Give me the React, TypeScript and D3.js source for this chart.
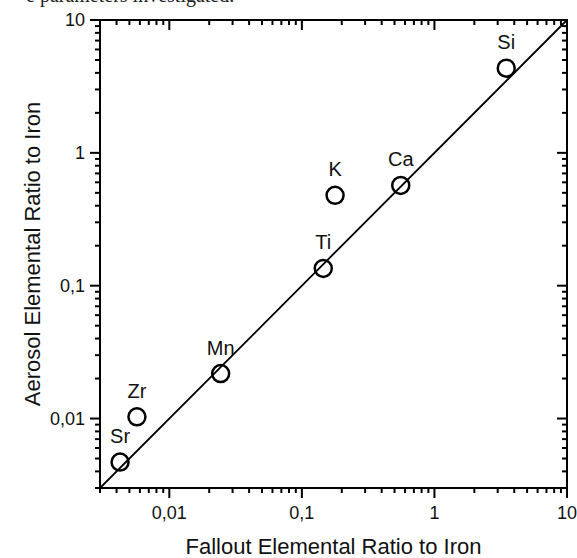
import React from 'react';
import * as d3 from 'd3';

// element labels and their ratios to iron
const elements = ['Sr', 'Zr', 'Mn', 'Ti', 'K', 'Ca', 'Si'];
const falloutRatio = [0.00425, 0.0057, 0.0244, 0.145, 0.178, 0.557, 3.48];
const aerosolRatio = [0.0047, 0.0103, 0.0218, 0.135, 0.479, 0.569, 4.34];

const majorTicks = [0.01, 0.1, 1, 10];
const majorLabels = ['0,01', '0,1', '1', '10'];
const axisDomain = [0.003, 10];

const W = 577;
const H = 558;
const margin = { left: 100, top: 20, right: 10, bottom: 70 };

const font = '"Liberation Sans", Arial, sans-serif';

export default function App() {
  const x = d3.scaleLog().domain(axisDomain).range([margin.left, W - margin.right]);
  const y = d3.scaleLog().domain(axisDomain).range([H - margin.bottom, margin.top]);

  const [x0, x1] = x.range();
  const [y0, y1] = y.range();

  // minor ticks 2..9 of each decade that lies inside the domain
  const minorTicks: number[] = [];
  for (let e = -3; e <= 0; e++) {
    for (let m = 2; m <= 9; m++) {
      const v = m * Math.pow(10, e);
      if (v >= axisDomain[0] && v <= axisDomain[1]) minorTicks.push(v);
    }
  }

  const major = 10;
  const minor = 5;
  const stroke = '#000';

  return (
    <div style={{ position: 'absolute', left: 0, top: 0 }}>
      <svg width={W} height={H} style={{ display: 'block', background: '#fff' }}>
        {/* cut-off caption line from the page above */}
        <text x={26} y={2} fontFamily='"Liberation Serif", "Times New Roman", serif' fontSize={20} fill="#222">
          e parameters investigated.
        </text>

        {/* 1:1 line */}
        <line x1={x(axisDomain[0])} y1={y(axisDomain[0])} x2={x(axisDomain[1])} y2={y(axisDomain[1])}
          stroke={stroke} strokeWidth={1.8} />

        {/* frame */}
        <rect x={x0} y={y1} width={x1 - x0} height={y0 - y1} fill="none" stroke={stroke} strokeWidth={2} />

        {/* bottom (out) and top (in) ticks */}
        {majorTicks.map((t) => (
          <g key={'xm' + t}>
            <line x1={x(t)} x2={x(t)} y1={y0} y2={y0 + major} stroke={stroke} strokeWidth={2} />
            <line x1={x(t)} x2={x(t)} y1={y1} y2={y1 + major} stroke={stroke} strokeWidth={2} />
          </g>
        ))}
        {minorTicks.map((t) => (
          <g key={'xn' + t}>
            <line x1={x(t)} x2={x(t)} y1={y0} y2={y0 + minor} stroke={stroke} strokeWidth={2} />
            <line x1={x(t)} x2={x(t)} y1={y1} y2={y1 + minor} stroke={stroke} strokeWidth={2} />
          </g>
        ))}

        {/* left (out) and right (in) ticks */}
        {majorTicks.map((t) => (
          <g key={'ym' + t}>
            <line y1={y(t)} y2={y(t)} x1={x0} x2={x0 - major} stroke={stroke} strokeWidth={2} />
            <line y1={y(t)} y2={y(t)} x1={x1} x2={x1 - major} stroke={stroke} strokeWidth={2} />
          </g>
        ))}
        {minorTicks.map((t) => (
          <g key={'yn' + t}>
            <line y1={y(t)} y2={y(t)} x1={x0} x2={x0 - minor} stroke={stroke} strokeWidth={2} />
            <line y1={y(t)} y2={y(t)} x1={x1} x2={x1 - minor} stroke={stroke} strokeWidth={2} />
          </g>
        ))}

        {/* tick labels */}
        {majorTicks.map((t, i) => (
          <text key={'xl' + t} x={x(t)} y={y0 + 31} textAnchor="middle" fontFamily={font} fontSize={18} fill="#111">
            {majorLabels[i]}
          </text>
        ))}
        {majorTicks.map((t, i) => (
          <text key={'yl' + t} x={x0 - 15} y={y(t)} dy="0.35em" textAnchor="end" fontFamily={font} fontSize={18} fill="#111">
            {majorLabels[i]}
          </text>
        ))}

        {/* axis titles */}
        <text x={(x0 + x1) / 2} y={H - 4} textAnchor="middle" fontFamily={font} fontSize={22} fill="#111">
          Fallout Elemental Ratio to Iron
        </text>
        <text transform={`translate(40, ${(y0 + y1) / 2}) rotate(-90)`} textAnchor="middle" fontFamily={font} fontSize={22} fill="#111">
          Aerosol Elemental Ratio to Iron
        </text>

        {/* points */}
        {elements.map((el, i) => (
          <g key={el}>
            <circle cx={x(falloutRatio[i])} cy={y(aerosolRatio[i])} r={8.5} fill="none" stroke={stroke} strokeWidth={2.5} />
            <text x={x(falloutRatio[i])} y={y(aerosolRatio[i]) - 19} textAnchor="middle" fontFamily={font} fontSize={20} fill="#111">
              {el}
            </text>
          </g>
        ))}
      </svg>
    </div>
  );
}
